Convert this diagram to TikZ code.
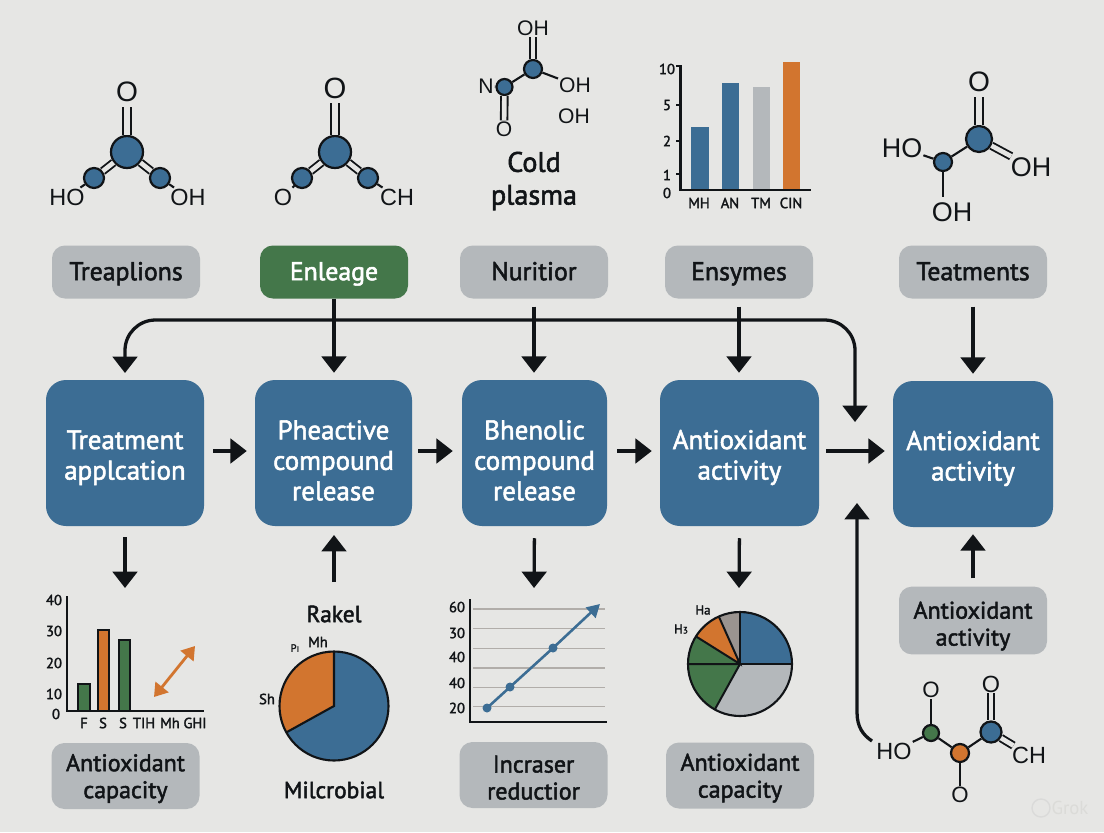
\documentclass[tikz,border=0pt]{standalone}
\usepackage{fontspec}
\usetikzlibrary{arrows.meta}
\setmainfont{PT Sans}
\newfontfamily\lab[FakeBold=2]{PT Sans}
\newfontfamily\chem{Liberation Sans}
\definecolor{bg}{HTML}{E6E6E4}
\definecolor{blu}{HTML}{3C6D94}
\definecolor{gry}{HTML}{B4B8BB}
\definecolor{grn}{HTML}{44774A}
\definecolor{org}{HTML}{D2752F}
\definecolor{brn}{HTML}{9A9490}
\definecolor{ink}{HTML}{111417}
\def\pxu{0.03cm}
\newcommand{\ps}[1]{\rule{0pt}{#1pt}}
\tikzset{
  x=0.03cm,y=-0.03cm,
  smallbox/.style={rectangle,rounded corners=11pt,fill=gry,text=ink,minimum width=148*\pxu,minimum height=53*\pxu,align=center,font=\lab\fontsize{22}{25}\selectfont},
  topbox/.style={smallbox,text height=18pt,text depth=4pt},
  tallbox/.style={smallbox,minimum height=66*\pxu,font=\lab\fontsize{20.5}{23}\selectfont},
  mainbox/.style={rectangle,rounded corners=17pt,fill=blu,text=white,minimum height=146*\pxu,align=center,font=\lab\fontsize{23}{26}\selectfont},
  arr/.style={draw=ink,line width=2.8pt,-{Triangle[width=21pt,length=14pt]}},
  atom/.style={circle,draw=ink,line width=1.9pt,fill=blu,inner sep=0pt},
  bond/.style={draw=ink,line width=1.8pt},
  dbond/.style={draw=ink,line width=1.6pt,double=bg,double distance=4pt},
  wbond/.style={dbond,double distance=5.6pt},
  chemlbl/.style={inner sep=0.8pt,text=ink},
  tick/.style={inner sep=0pt,text=ink,font=\lab\fontsize{12.5}{14}\selectfont},
  axis/.style={draw=ink,line width=1.8pt},
  free/.style={inner sep=0pt,text=ink,align=center,font=\lab\fontsize{20}{28}\selectfont},
}
\newcommand{\tk}[4]{\node[tick] (#1) at (#2,#3) {#4};}
\newcommand{\mlbl}[5]{\node[chemlbl,font=\chem\fontsize{#4}{#4}\selectfont] (#1) at (#2,#3) {#5};}
\begin{document}
\begin{tikzpicture}
\fill[bg] (0,0) rectangle (1104,832);
\useasboundingbox (0,0) rectangle (1104,832);

% top boxes
\node[topbox] (t1) at (126,272) {Treaplions};
\node[topbox,fill=grn,text=white] (t2) at (334,272) {Enleage};
\node[topbox] (t3) at (534,272) {Nuritior};
\node[topbox] (t4) at (739,272) {Ensymes};
\node[topbox] (t5) at (973,272) {Teatments};

% main boxes
\node[mainbox,minimum width=158*\pxu] (m1) at (125,453) {\ps{24}Treatment\\applcation};
\node[mainbox,minimum width=157*\pxu] (m2) at (333.5,453) {\ps{29}Pheactive\\compound\\release};
\node[mainbox,minimum width=145*\pxu] (m3) at (534.5,453) {\ps{29}Bhenolic\\compound\\release};
\node[mainbox,minimum width=159*\pxu] (m4) at (739.5,453) {\ps{24}Antioxidant\\activity};
\node[mainbox,minimum width=160*\pxu] (m5) at (973,454) {\ps{24}Antioxidant\\activity};

% bottom boxes
\node[tallbox] (b1) at (125.5,776) {\ps{19}Antioxidant\\capacity};
\node[tallbox] (b3) at (533.5,775) {\ps{19}Incraser\\reductior};
\node[tallbox] (b4) at (740,775.5) {\ps{19}Antioxidant\\capacity};
\node[tallbox] (b5) at (973,620.5) {\ps{24}Antioxidant\\activity};
\node[free] (rakel) at (334,614) {Rakel};
\node[free] (micro) at (334,790) {Milcrobial};
\node[free,font=\lab\fontsize{24}{28}\selectfont] (cold) at (534,181) {Cold\\plasma};

% horizontal arrows
\draw[arr,shorten <=9*\pxu,shorten >=8*\pxu] (m1.east |- 0,451) -- (m2.west |- 0,451);
\draw[arr,shorten <=6*\pxu,shorten >=9*\pxu] (m2.east |- 0,451) -- (m3.west |- 0,451);
\draw[arr,shorten <=10*\pxu,shorten >=8*\pxu] (m3.east |- 0,451) -- (m4.west |- 0,451);
\draw[arr,shorten <=7*\pxu,shorten >=8*\pxu] (m4.east |- 0,451) -- (m5.west |- 0,451);

% vertical arrows from top boxes
\draw[arr,shorten <=0pt,shorten >=7*\pxu] (t2.south) -- (m2.north -| t2.south);
\draw[arr,shorten <=8*\pxu,shorten >=7*\pxu] (t3.south) -- (m3.north -| t3.south);
\draw[arr,shorten <=8*\pxu,shorten >=7*\pxu] (t4.south) -- (m4.north -| t4.south);
\draw[arr,shorten <=8*\pxu,shorten >=7*\pxu] (t5.south) -- (m5.north -| t5.south);

% bus
\coordinate (busL) at (125,373);
\coordinate (busR) at (855,422);
\draw[arr,rounded corners=26pt] (334,320) -- (125,320) -- (busL);
\draw[arr,rounded corners=26pt] (334,320) -- (855,320) -- (busR);

% vertical arrows below
\coordinate (d1) at (125,588);
\coordinate (u2) at (334,535);
\coordinate (s2) at (334,582);
\coordinate (d3) at (534,588);
\coordinate (d4) at (739,588);
\draw[arr,shorten <=11*\pxu] (m1.south) -- (d1);
\draw[arr] (s2) -- (u2);
\draw[arr,shorten <=12*\pxu] (m3.south) -- (d3);
\draw[arr,shorten <=12*\pxu] (m4.south) -- (d4);
\draw[arr,shorten <=8*\pxu,shorten >=7*\pxu] (b5.north) -- (m5.south);

% molecule 1
\node[atom,minimum size=32*\pxu] (a1) at (127,152) {};
\node[atom,minimum size=20*\pxu] (a2) at (94,178) {};
\node[atom,minimum size=20*\pxu] (a3) at (160,178) {};
\mlbl{o1}{127}{92}{24}{O}
\mlbl{h1}{67}{197}{20}{HO}
\mlbl{h2}{188}{197}{20}{OH}
\draw[wbond,shorten >=3pt] (a1) -- (o1);
\draw[dbond] (a1) -- (a2);
\draw[dbond] (a1) -- (a3);
\draw[bond] (a2) -- (h1);
\draw[bond] (a3) -- (h2);

% molecule 2
\node[atom,minimum size=32*\pxu] (c1) at (335,152) {};
\node[atom,minimum size=20*\pxu] (c2) at (302,178) {};
\node[atom,minimum size=20*\pxu] (c3) at (368,178) {};
\mlbl{o2}{335}{88}{25}{O}
\mlbl{h3}{283}{197}{20}{O}
\mlbl{h4}{397}{197}{20}{CH}
\draw[wbond,shorten >=3pt] (c1) -- (o2);
\draw[dbond] (c1) -- (c2);
\draw[dbond] (c1) -- (c3);
\draw[bond] (c2) -- (h3);
\draw[bond] (c3) -- (h4);

% molecule 3
\node[atom,minimum size=18*\pxu] (e1) at (533,69) {};
\node[atom,minimum size=16*\pxu] (e2) at (504.5,87) {};
\mlbl{e3}{533}{28}{18}{OH}
\mlbl{e4}{486}{86}{18}{N}
\mlbl{e5}{504}{129}{18}{O}
\mlbl{e6}{575}{85}{18}{OH}
\mlbl{e7}{574}{116}{18}{OH}
\draw[dbond] (e1) -- (e3);
\draw[dbond] (e2) -- (e5);
\draw[bond] (e1) -- (e2);
\draw[bond] (e2) -- (e4);
\draw[bond] (e1) -- (e6);

% top bar chart
\fill[blu] (691,127) rectangle (709,190);
\fill[blu] (722,83) rectangle (739,190);
\fill[gry] (753,87) rectangle (770,190);
\fill[org] (783,62) rectangle (800,190);
\draw[axis] (680.5,65) -- (680.5,190) -- (811,190);
\foreach \yy in {66,105,141,174} \draw[axis,line width=1.5pt] (676,\yy) -- (680.5,\yy);
\tk{y1}{667}{69}{10}\tk{y2}{667}{105}{5}\tk{y3}{667}{141}{2}\tk{y4}{667}{175}{1}\tk{y5}{667}{193}{0}
\tk{x1}{699}{203}{MH}\tk{x2}{730}{203}{AN}\tk{x3}{761}{203}{TM}\tk{x4}{791}{203}{CIN}

% molecule 5
\node[atom,minimum size=26*\pxu] (f1) at (979,139) {};
\node[atom,minimum size=18*\pxu] (f2) at (943,162) {};
\mlbl{f3}{979}{82}{24}{O}
\mlbl{f4}{902}{148}{23}{HO}
\mlbl{f5}{1031}{167}{23}{OH}
\mlbl{f6}{952}{212}{23}{OH}
\draw[wbond,shorten >=3pt] (f1) -- (f3);
\draw[dbond] (f1) -- (f5);
\draw[bond] (f1) -- (f2);
\draw[bond] (f2) -- (f4);
\coordinate (f7) at (943,197);
\draw[bond] (f2) -- (f7);

% bottom-left bar chart
\fill[grn,draw=ink,line width=1.3pt] (78,684) rectangle (90,711);
\fill[org,draw=ink,line width=1.3pt] (98,630) rectangle (109,711);
\fill[grn,draw=ink,line width=1.3pt] (119,640) rectangle (130,711);
\draw[axis] (67,596) -- (67,711) -- (204,711);
\tk{p1}{54}{600}{40}\tk{p2}{54}{631}{30}\tk{p3}{54}{663}{20}\tk{p4}{54}{694}{10}\tk{p5}{56}{714}{0}
\tk{q1}{84}{723}{F}\tk{q2}{103}{723}{S}\tk{q3}{123}{723}{S}\tk{q4}{144}{723}{TIH}\tk{q5}{170}{723}{Mh}\tk{q6}{195}{723}{GHI}
\coordinate (da) at (154,697);
\coordinate (db) at (195,646);
\draw[draw=org,line width=2.4pt,{Triangle[width=14pt,length=11pt]}-{Triangle[width=14pt,length=11pt]}] (da) -- (db);

% pie 1 (y axis points down: page angle t is written -t)
\fill[blu] (334,706) circle[radius=54.5];
\fill[org] (334,706) -- (334,651.5) arc[start angle=-90,end angle=-209,radius=54.5] -- cycle;
\draw[draw=ink,line width=1.8pt] (334,651.5) -- (334,706) -- (286.3,732.4);
\draw[draw=ink,line width=1.8pt] (334,706) circle[radius=54.5];
\tk{r1}{318}{642}{Mh}
\node[tick,font=\lab\fontsize{9}{11}\selectfont] (r2) at (295,648) {Pı};
\tk{r3}{267}{699}{Sh}

% line chart
\foreach \yy in {609,628.5,648.7,668,687.5,706.7} \draw[draw=brn!70!bg,line width=0.9pt] (473,\yy) -- (605,\yy);
\draw[axis] (470,599) -- (470,722) -- (607,722);
\tk{g1}{457}{607}{60}\tk{g2}{457}{633}{30}\tk{g3}{457}{657}{40}\tk{g4}{457}{683}{40}\tk{g5}{457}{708}{20}
\node[circle,fill=blu,inner sep=0pt,minimum size=9*\pxu] (l1) at (487,708) {};
\node[circle,fill=blu,inner sep=0pt,minimum size=9*\pxu] (l2) at (510,687) {};
\node[circle,fill=blu,inner sep=0pt,minimum size=9*\pxu] (l3) at (553,648) {};
\coordinate (l4) at (600,604);
\draw[draw=blu,line width=2.2pt,-{Triangle[width=12pt,length=11pt]}] (487,708) -- (510,687) -- (553,648) -- (l4);

% pie 2
\begin{scope}[shift={(740,664)}]
\fill[blu] (0,0) -- (0,-52) arc[start angle=-90,end angle=0,radius=52] -- cycle;
\fill[gry] (0,0) -- (52,0) arc[start angle=0,end angle=119,radius=52] -- cycle;
\fill[grn] (0,0) -- (-25.2,45.5) arc[start angle=119,end angle=212,radius=52] -- cycle;
\fill[org] (0,0) -- (-44.1,-27.6) arc[start angle=212,end angle=246,radius=52] -- cycle;
\fill[brn] (0,0) -- (-21.2,-47.5) arc[start angle=246,end angle=270,radius=52] -- cycle;
\draw[draw=ink,line width=1.7pt] (0,-52) -- (0,0) -- (52,0);
\draw[draw=ink,line width=1.7pt] (-25.2,45.5) -- (0,0) -- (-52,0);
\draw[draw=ink,line width=1.7pt] (-44.1,-27.6) -- (0,0) -- (-21.2,-47.5);
\draw[draw=ink,line width=1.8pt] (0,0) circle[radius=52];
\end{scope}
\node[tick,font=\lab\fontsize{11}{12}\selectfont] (n1) at (703,610) {Ha};
\node[tick,font=\lab\fontsize{11}{12}\selectfont] (n2) at (681,629) {H{\fontsize{8}{8}\selectfont 3}};

% molecule 6
\node[atom,fill=grn,minimum size=16*\pxu] (k1) at (931,733) {};
\node[atom,fill=org,minimum size=18*\pxu] (k2) at (960,753) {};
\node[atom,minimum size=21*\pxu] (k3) at (991,732) {};
\mlbl{k4}{931}{690}{19}{O}
\mlbl{k5}{991}{684}{20}{O}
\mlbl{k6}{960}{795}{19}{O}
\mlbl{k7}{894}{751}{20}{HO}
\mlbl{k8}{1029}{755}{20}{CH}
\draw[bond] (k1) -- (k4);
\draw[dbond] (k3) -- (k5);
\draw[bond] (k2) -- (k6);
\draw[bond] (k1) -- (k7);
\draw[bond] (k1) -- (k2);
\draw[bond] (k2) -- (k3);
\draw[dbond] (k3) -- (k8);

% long arrow
\coordinate (lk) at (872,741);
\draw[arr] (lk) .. controls (863,735) and (857,727) .. (857,712) -- (857,503);

% watermark
\node[inner sep=0pt,text=bg!95!black,font=\fontsize{16}{18}\selectfont] (wm) at (1070,808) {Grok};
\draw[draw=bg!95!black,line width=1.2pt] (1041,808) circle[radius=9];
\end{tikzpicture}
\end{document}
